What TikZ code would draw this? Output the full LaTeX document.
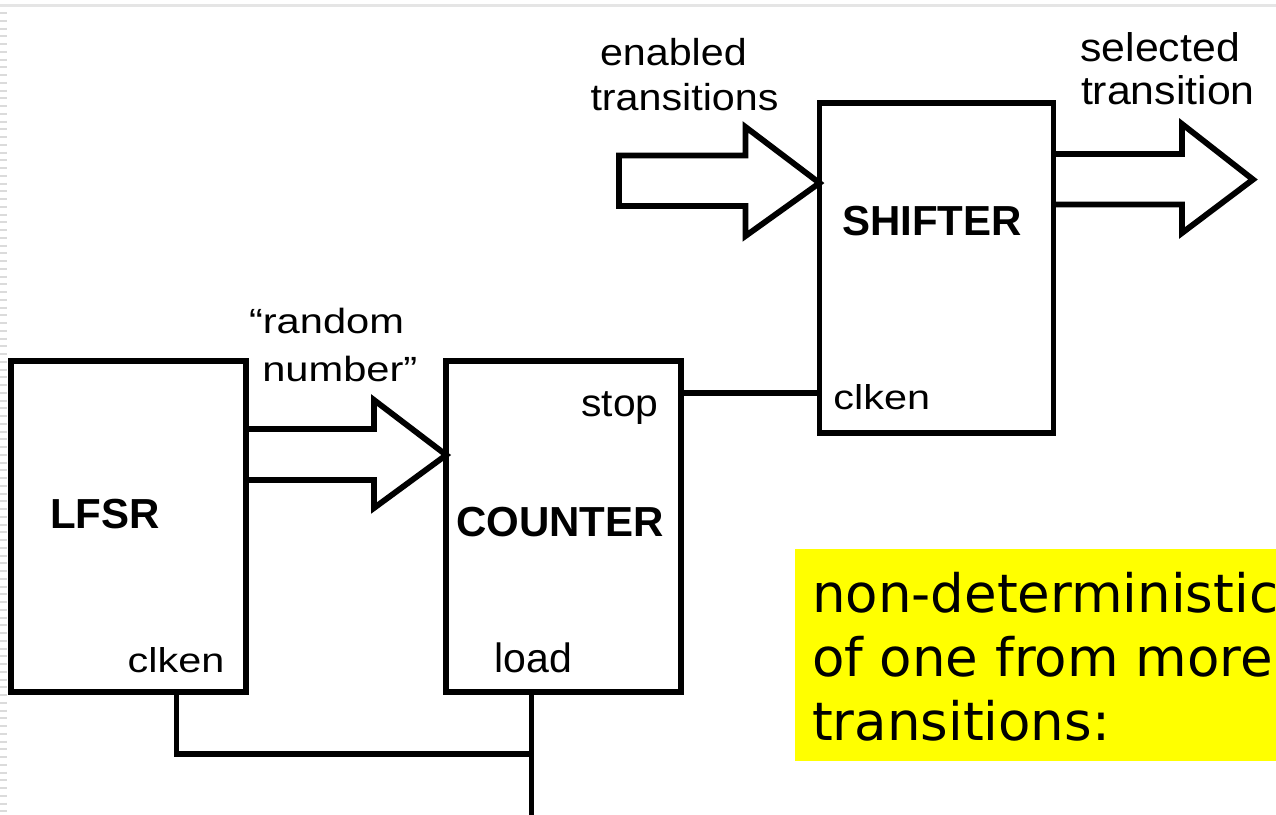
\documentclass[tikz,border=0pt]{standalone}
\usepackage{fontspec}
\setmainfont{Liberation Sans}
\newfontfamily\notefont{DejaVu Sans}
\definecolor{notebg}{RGB}{255,255,0}
\begin{document}
\begin{tikzpicture}[x=1pt,y=-1pt,
  blk/.style={draw=black,line width=5.8pt,rectangle,inner sep=0pt,outer sep=0pt,
              minimum width=235pt,minimum height=331pt},
  wire/.style={draw=black,line width=5.8pt,line join=miter},
  fatarrow/.style={draw=black,line width=5.8pt,line join=miter,miter limit=10},
  lbl/.style={anchor=base west,inner sep=0pt,outer sep=0pt,text=black,
              font=\fontsize{#1}{#1}\selectfont},
  hdr/.style={anchor=base west,inner sep=0pt,outer sep=0pt,text=black,
              font=\fontsize{#1}{#1}\selectfont\bfseries},
  note/.style={anchor=base west,inner sep=0pt,outer sep=0pt,align=left,text=black,
               font=\notefont\fontsize{53}{64}\selectfont}
]
\useasboundingbox (0,0) rectangle (1276,814);
\clip (0,0) rectangle (1276,814);

% slide frame: faint rule on top, dotted margin on the left
\draw[line width=3pt,black!10] (0,5.6) -- (1276,5.6);
\draw[line width=7.3pt,black!14,dash pattern=on 2pt off 5.75pt] (3.6,12) -- (3.6,814);

% highlighted remark (the node's base is the baseline of its last line)
\fill[notebg] (795,549.3) rectangle (1290,760.7);
\node[note] (remark) at (812,740) {non-deterministic\\of one from more\\transitions:};

% blocks
\node[blk] (lfsr) at (128.5,526.5) {};
\node[blk] (counter) at (563.75,526.5) {};
\node[blk,minimum width=234pt,minimum height=330pt] (shifter) at (936.5,268) {};

% block names and port labels
\node[hdr=42] (lfsrname) at (50,528) {LFSR};
\node[hdr=42] (countername) at (456,536) {COUNTER};
\node[hdr=42] (shiftername) at (842,235) {SHIFTER};
\node[lbl=34.5] (lfsrclk) at (127.7,672.7) {\scalebox{1.2}[1]{clken}};
\node[lbl=34.5] (shifterclk) at (833.4,409.3) {\scalebox{1.2}[1]{clken}};
\node[lbl=38.5] (stopport) at (581.5,416.7) {\scalebox{1.06}[1]{stop}};
\node[lbl=41] (loadport) at (494.6,672.7) {load};

% bus labels
\node[lbl=35] (rnd1) at (249,333.3) {\scalebox{1.19}[1]{“random}};
\node[lbl=35] (rnd2) at (262.3,381.7) {\scalebox{1.19}[1]{number”}};
\node[lbl=37.5] (en1) at (600,65) {\scalebox{1.1}[1]{enabled}};
\node[lbl=37.5] (en2) at (590.5,110.7) {\scalebox{1.1}[1]{transitions}};
\node[lbl=40] (sel1) at (1080.4,61.7) {\scalebox{1.07}[1]{selected}};
\node[lbl=40] (sel2) at (1081,104) {\scalebox{1.07}[1]{transition}};

% wide bus arrows
\draw[fatarrow] (lfsr.east |- 0,429) -- (374,429) -- (374,400)
  -- (counter.west |- 0,455) -- (374,508) -- (374,480) -- (lfsr.east |- 0,480);
\coordinate (enin) at (619,180.75);
\draw[fatarrow] (enin |- 0,155.5) -- (745.5,155.5) -- (745.5,127)
  -- (shifter.west |- 0,183) -- (745.5,236) -- (745.5,206) -- (enin |- 0,206) -- cycle;
\coordinate (selout) at (1253,179.5);
\draw[fatarrow] (shifter.east |- 0,154) -- (1182,154) -- (1182,124)
  -- (selout) -- (1182,233) -- (1182,204.5) -- (shifter.east |- 0,204.5);

% control wires
\draw[wire] (counter.east |- 0,393) -- (shifter.west |- 0,393);
\coordinate (jn) at (531.5,754);
\coordinate (busend) at (531.5,822);
\draw[wire] (lfsr.south -| 176.5,0) -- (176.5,754) -- (jn);
\draw[wire] (counter.south -| jn) -- (busend);
\end{tikzpicture}
\end{document}
